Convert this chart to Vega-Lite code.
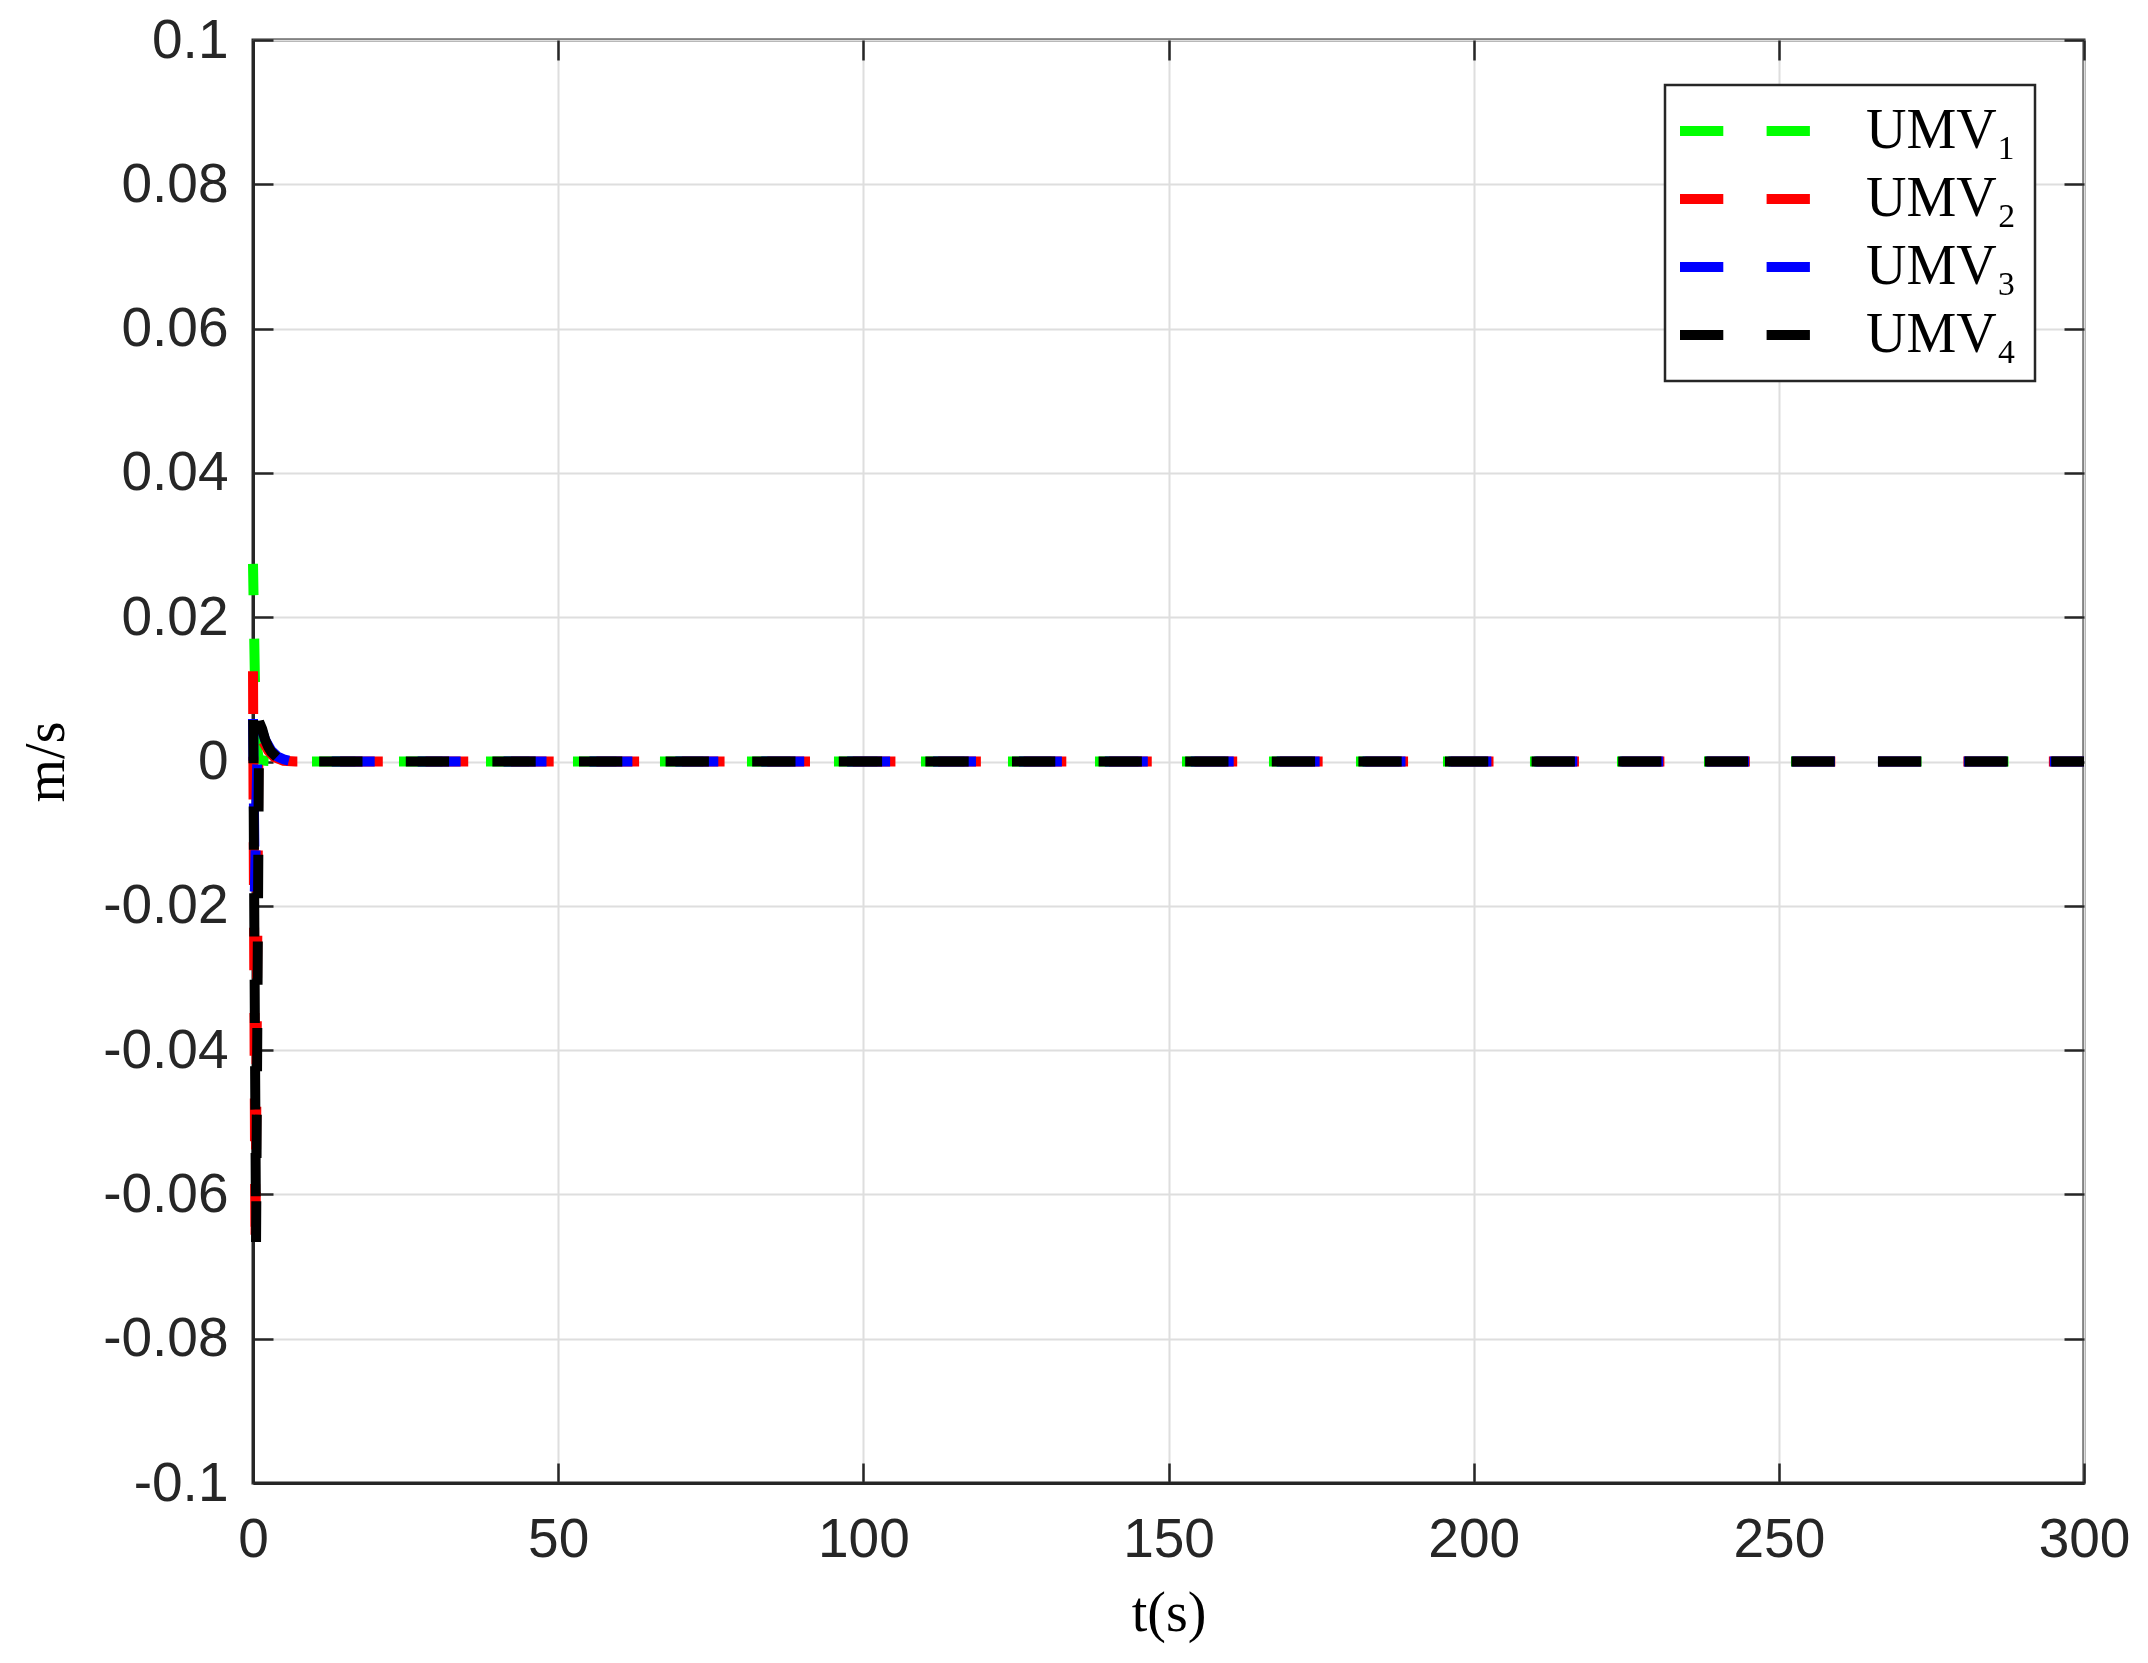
{
  "$schema": "https://vega.github.io/schema/vega-lite/v6.json",
  "width": 1831,
  "height": 1443,
  "autosize": {"type": "none"},
  "padding": {"left": 253, "top": 40, "right": 64, "bottom": 180},
  "background": "white",
  "config": {
    "view": {"stroke": "#262626", "strokeWidth": 3},
    "axis": {
      "labelFont": "Liberation Sans",
      "labelFontSize": 55,
      "labelColor": "#262626",
      "tickColor": "#262626",
      "tickWidth": 2.5,
      "tickSize": -20,
      "domainColor": "#262626",
      "domainWidth": 3,
      "gridColor": "#dedede",
      "gridWidth": 2,
      "labelFlush": false,
      "labelOverlap": false,
      "titleFont": "Liberation Serif",
      "titleFontSize": 56,
      "titleFontWeight": "normal",
      "titleColor": "#000000"
    },
    "legend": {
      "labelFont": "Liberation Serif",
      "labelFontSize": 56,
      "labelColor": "#000000"
    }
  },
  "data": {
    "values": [
      {"t": 0, "v": 0.0274, "s": "UMV₁"},
      {"t": 0.3, "v": 0.012, "s": "UMV₁"},
      {"t": 0.6, "v": 0.002, "s": "UMV₁"},
      {"t": 1.0, "v": 0.0003, "s": "UMV₁"},
      {"t": 2.0, "v": 0.0001, "s": "UMV₁"},
      {"t": 4.0, "v": 0, "s": "UMV₁"},
      {"t": 300, "v": 0, "s": "UMV₁"},
      {"t": 0, "v": 0.013, "s": "UMV₂"},
      {"t": 0.4, "v": -0.068, "s": "UMV₂"},
      {"t": 0.9, "v": 0.004, "s": "UMV₂"},
      {"t": 1.5, "v": 0.003, "s": "UMV₂"},
      {"t": 2.5, "v": 0.0015, "s": "UMV₂"},
      {"t": 3.5, "v": 0.0006, "s": "UMV₂"},
      {"t": 5.0, "v": 0.0001, "s": "UMV₂"},
      {"t": 7.0, "v": 0, "s": "UMV₂"},
      {"t": 300, "v": 0, "s": "UMV₂"},
      {"t": 0, "v": 0.0059, "s": "UMV₃"},
      {"t": 0.3, "v": -0.018, "s": "UMV₃"},
      {"t": 0.8, "v": 0.0048, "s": "UMV₃"},
      {"t": 1.5, "v": 0.0042, "s": "UMV₃"},
      {"t": 2.0, "v": 0.003, "s": "UMV₃"},
      {"t": 3.0, "v": 0.0015, "s": "UMV₃"},
      {"t": 4.0, "v": 0.0007, "s": "UMV₃"},
      {"t": 5.0, "v": 0.0003, "s": "UMV₃"},
      {"t": 6.0, "v": 0.0001, "s": "UMV₃"},
      {"t": 8.0, "v": 0, "s": "UMV₃"},
      {"t": 300, "v": 0, "s": "UMV₃"},
      {"t": 0, "v": 0.0113, "s": "UMV₄"},
      {"t": 0.5, "v": -0.0666, "s": "UMV₄"},
      {"t": 1.0, "v": 0.0055, "s": "UMV₄"},
      {"t": 1.5, "v": 0.0045, "s": "UMV₄"},
      {"t": 2.0, "v": 0.003, "s": "UMV₄"},
      {"t": 2.5, "v": 0.002, "s": "UMV₄"},
      {"t": 3.0, "v": 0.0013, "s": "UMV₄"},
      {"t": 4.0, "v": 0.0005, "s": "UMV₄"},
      {"t": 5.0, "v": 0.0002, "s": "UMV₄"},
      {"t": 6.5, "v": 0, "s": "UMV₄"},
      {"t": 300, "v": 0, "s": "UMV₄"}
    ]
  },
  "resolve": {"axis": {"x": "independent", "y": "independent"}},
  "layer": [
    {
      "transform": [{"filter": "datum.s == 'UMV₁'"}],
      "mark": {"type": "line", "strokeWidth": 10, "strokeDash": [43.5, 43.5], "strokeCap": "butt", "strokeDashOffset": 12.13},
      "encoding": {
        "x": {"field": "t", "type": "quantitative", "scale": {"domain": [0, 300], "nice": false, "zero": false},
          "axis": {"orient": "bottom", "values": [0, 50, 100, 150, 200, 250, 300], "labelPadding": 50, "title": "t(s)", "titleX": 915.5, "titleY": 147, "titleBaseline": "alphabetic", "titleAlign": "center"}},
        "y": {"field": "v", "type": "quantitative", "scale": {"domain": [-0.1, 0.1], "nice": false, "zero": false},
          "axis": {"orient": "left", "values": [-0.1, -0.08, -0.06, -0.04, -0.02, 0, 0.02, 0.04, 0.06, 0.08, 0.1], "labelExpr": "toString(datum.value)", "labelPadding": 45, "title": "m/s", "titleX": -190, "titleY": 721.5, "titleAngle": -90, "titleBaseline": "alphabetic", "titleAlign": "center"}},
        "color": {"field": "s", "type": "nominal",
          "scale": {"domain": ["UMV₁", "UMV₂", "UMV₃", "UMV₄"], "range": ["#00ff00", "#ff0000", "#0000ff", "#000000"]},
          "legend": {"title": null, "orient": "none", "legendX": 1412, "legendY": 45,
            "symbolType": "M-3.25,0H3.25", "symbolSize": 1600, "symbolStrokeWidth": 10, "symbolDash": [43.3, 43.3],
            "symbolFillColor": "transparent", "symbolOffset": 34, "labelOffset": 93, "rowPadding": 12, "padding": 18,
            "strokeColor": "#262626", "fillColor": "#ffffff",
            "encode": {"legend": {"update": {"strokeWidth": {"value": 2.5}}}}}}
      }
    },
    {
      "transform": [{"filter": "datum.s == 'UMV₂'"}],
      "mark": {"type": "line", "strokeWidth": 10, "strokeDash": [42.72, 42.72], "strokeCap": "butt", "strokeDashOffset": 81.85},
      "encoding": {
        "x": {"field": "t", "type": "quantitative", "scale": {"domain": [0, 300], "nice": false, "zero": false}, "axis": null},
        "y": {"field": "v", "type": "quantitative", "scale": {"domain": [-0.1, 0.1], "nice": false, "zero": false}, "axis": null},
        "color": {"field": "s", "type": "nominal", "legend": null}
      }
    },
    {
      "transform": [{"filter": "datum.s == 'UMV₃'"}],
      "mark": {"type": "line", "strokeWidth": 10, "strokeDash": [42.95, 42.95], "strokeCap": "butt", "strokeDashOffset": 1.27},
      "encoding": {
        "x": {"field": "t", "type": "quantitative", "scale": {"domain": [0, 300], "nice": false, "zero": false}, "axis": null},
        "y": {"field": "v", "type": "quantitative", "scale": {"domain": [-0.1, 0.1], "nice": false, "zero": false}, "axis": null},
        "color": {"field": "s", "type": "nominal", "legend": null}
      }
    },
    {
      "transform": [{"filter": "datum.s == 'UMV₄'"}],
      "mark": {"type": "line", "strokeWidth": 10, "strokeDash": [43.3, 43.3], "strokeCap": "butt", "strokeDashOffset": 46.66},
      "encoding": {
        "x": {"field": "t", "type": "quantitative", "scale": {"domain": [0, 300], "nice": false, "zero": false}, "axis": null},
        "y": {"field": "v", "type": "quantitative", "scale": {"domain": [-0.1, 0.1], "nice": false, "zero": false}, "axis": null},
        "color": {"field": "s", "type": "nominal", "legend": null}
      }
    },
    {
      "mark": {"type": "point", "opacity": 0},
      "encoding": {
        "x": {"field": "t", "type": "quantitative", "scale": {"domain": [0, 300], "nice": false, "zero": false},
          "axis": {"orient": "top", "values": [0, 50, 100, 150, 200, 250, 300], "labels": false, "grid": false, "domain": false, "title": null}},
        "y": {"field": "v", "type": "quantitative", "scale": {"domain": [-0.1, 0.1], "nice": false, "zero": false},
          "axis": {"orient": "right", "values": [-0.1, -0.08, -0.06, -0.04, -0.02, 0, 0.02, 0.04, 0.06, 0.08, 0.1], "labels": false, "grid": false, "domain": false, "title": null}}
      }
    }
  ]
}
